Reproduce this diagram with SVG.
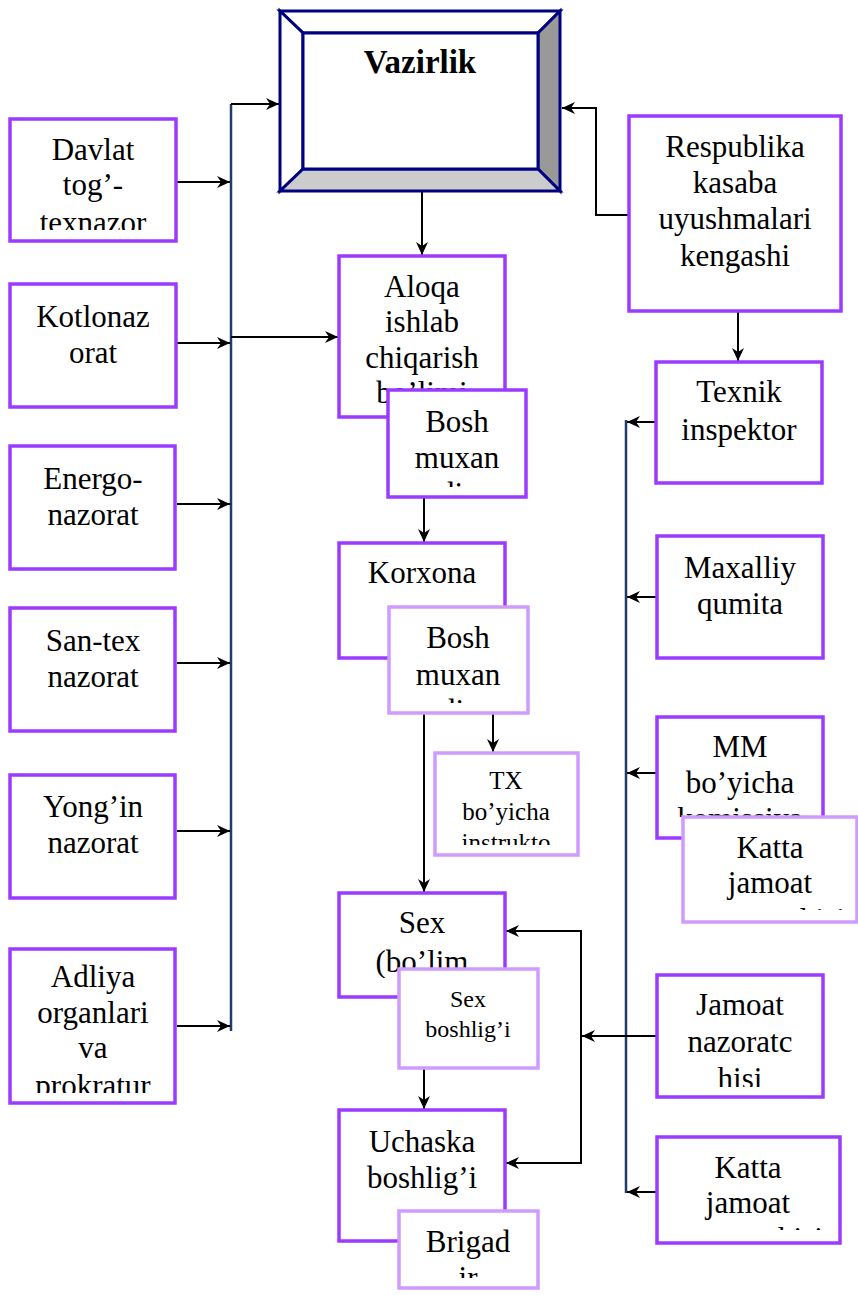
<svg xmlns="http://www.w3.org/2000/svg" width="858" height="1295" viewBox="0 0 858 1295">
<style>
.bx{fill:#fff;stroke:#9b3bff;stroke-width:3.5}
.lb{fill:#fff;stroke:#cf9bff;stroke-width:3.5}
.t{font-family:"Liberation Serif","Times New Roman",serif;font-size:31px;fill:#000;text-anchor:middle}
.s{font-size:25px}
.c{fill:none;stroke:#000;stroke-width:2}
.nv{fill:none;stroke:#1f3c6b;stroke-width:2.5}
.bev{stroke:#000080;stroke-width:3;stroke-linejoin:miter}
</style>
<defs>
<marker id="ar" markerUnits="userSpaceOnUse" markerWidth="14" markerHeight="12" refX="13" refY="6" orient="auto">
<path d="M0,0 L13,6 L0,12 L4,6 z" fill="#000"/>
</marker>
<clipPath id="c1"><rect x="12" y="121" width="162" height="109"/></clipPath>
<clipPath id="c2"><rect x="12" y="286" width="162" height="118"/></clipPath>
<clipPath id="c3"><rect x="12" y="448" width="162" height="118"/></clipPath>
<clipPath id="c4"><rect x="12" y="610" width="162" height="118"/></clipPath>
<clipPath id="c5"><rect x="12" y="777" width="162" height="118"/></clipPath>
<clipPath id="c6"><rect x="12" y="951" width="162" height="142"/></clipPath>
<clipPath id="cA"><rect x="341" y="258" width="162" height="155"/></clipPath>
<clipPath id="cB1"><rect x="390" y="392" width="135" height="95"/></clipPath>
<clipPath id="cK"><rect x="341" y="545" width="162" height="110"/></clipPath>
<clipPath id="cB2"><rect x="391" y="609" width="135" height="94"/></clipPath>
<clipPath id="cTX"><rect x="437" y="755" width="139" height="90"/></clipPath>
<clipPath id="cS"><rect x="341" y="895" width="162" height="83"/></clipPath>
<clipPath id="cSB"><rect x="401" y="971" width="135" height="95"/></clipPath>
<clipPath id="cU"><rect x="341" y="1112" width="162" height="127"/></clipPath>
<clipPath id="cBr"><rect x="401" y="1213" width="135" height="65"/></clipPath>
<clipPath id="cR"><rect x="631" y="118" width="208" height="191"/></clipPath>
<clipPath id="cT"><rect x="658" y="364" width="162" height="117"/></clipPath>
<clipPath id="cM"><rect x="659" y="538" width="162" height="118"/></clipPath>
<clipPath id="cMM"><rect x="659" y="719" width="162" height="98"/></clipPath>
<clipPath id="cKJ"><rect x="685" y="819" width="170" height="91"/></clipPath>
<clipPath id="cJ"><rect x="659" y="977" width="162" height="110"/></clipPath>
<clipPath id="cKJ2"><rect x="659" y="1139" width="179" height="91"/></clipPath>
</defs>

<g id="connectors">
<path class="nv" d="M231,104 V1031"/>
<path class="nv" d="M626,420 V1193"/>
<path class="c" d="M231,104 H279" marker-end="url(#ar)"/>
<path class="c" d="M231,337 H338" marker-end="url(#ar)"/>
<path class="c" d="M177,182 H230" marker-end="url(#ar)"/>
<path class="c" d="M177,343 H230" marker-end="url(#ar)"/>
<path class="c" d="M177,504 H230" marker-end="url(#ar)"/>
<path class="c" d="M177,663 H230" marker-end="url(#ar)"/>
<path class="c" d="M177,831 H230" marker-end="url(#ar)"/>
<path class="c" d="M177,1026 H230" marker-end="url(#ar)"/>
<path class="c" d="M629,215 H596 V108 H562" marker-end="url(#ar)"/>
<path class="c" d="M422,192 V255" marker-end="url(#ar)"/>
<path class="c" d="M424,498 V542" marker-end="url(#ar)"/>
<path class="c" d="M424,713 V892" marker-end="url(#ar)"/>
<path class="c" d="M493,713 V752" marker-end="url(#ar)"/>
<path class="c" d="M424,1068 V1109" marker-end="url(#ar)"/>
<path class="c" d="M738,311 V361" marker-end="url(#ar)"/>
<path class="c" d="M656,422 H627" marker-end="url(#ar)"/>
<path class="c" d="M657,597 H627" marker-end="url(#ar)"/>
<path class="c" d="M657,773 H627" marker-end="url(#ar)"/>
<path class="c" d="M657,1192 H627" marker-end="url(#ar)"/>
<path class="c" d="M657,1036 H582" marker-end="url(#ar)"/>
<path class="c" d="M581,1036 V931 H506" marker-end="url(#ar)"/>
<path class="c" d="M581,1036 V1163 H506" marker-end="url(#ar)"/>
</g>

<g id="vazirlik">
<rect x="280" y="11" width="280" height="180" fill="#fff"/>
<polygon class="bev" points="280,11 560,11 538,33 303,33" fill="#fff"/>
<polygon class="bev" points="280,11 303,33 303,169 280,191" fill="#fff"/>
<polygon class="bev" points="560,11 560,191 538,169 538,33" fill="#999"/>
<polygon class="bev" points="280,191 303,169 538,169 560,191" fill="#ccc"/>
<rect class="bev" x="303" y="33" width="235" height="136" fill="#fff"/>
<text class="t" x="420" y="73" style="font-weight:bold;font-size:33px">Vazirlik</text>
</g>

<g id="davlat">
<rect class="bx" x="10" y="119" width="166" height="122"/>
<g clip-path="url(#c1)"><text class="t" x="93" y="160">Davlat</text><text class="t" x="93" y="195">tog’-</text><text class="t" x="93" y="233">texnazor</text></g>
</g>
<g id="kotlonazorat">
<rect class="bx" x="10" y="284" width="166" height="123"/>
<g clip-path="url(#c2)"><text class="t" x="93" y="327">Kotlonaz</text><text class="t" x="93" y="363">orat</text></g>
</g>
<g id="energo">
<rect class="bx" x="10" y="446" width="165" height="123"/>
<g clip-path="url(#c3)"><text class="t" x="93" y="489">Energo-</text><text class="t" x="93" y="525">nazorat</text></g>
</g>
<g id="santex">
<rect class="bx" x="10" y="608" width="165" height="123"/>
<g clip-path="url(#c4)"><text class="t" x="93" y="651">San-tex</text><text class="t" x="93" y="687">nazorat</text></g>
</g>
<g id="yongin">
<rect class="bx" x="10" y="775" width="165" height="123"/>
<g clip-path="url(#c5)"><text class="t" x="93" y="817">Yong’in</text><text class="t" x="93" y="853">nazorat</text></g>
</g>
<g id="adliya">
<rect class="bx" x="10" y="949" width="165" height="154"/>
<g clip-path="url(#c6)"><text class="t" x="93" y="987">Adliya</text><text class="t" x="93" y="1023">organlari</text><text class="t" x="93" y="1058">va</text><text class="t" x="93" y="1096">prokratur</text></g>
</g>

<g id="aloqa">
<rect class="bx" x="339" y="256" width="166" height="161"/>
<g clip-path="url(#cA)"><text class="t" x="422" y="297">Aloqa</text><text class="t" x="422" y="332">ishlab</text><text class="t" x="422" y="368">chiqarish</text><text class="t" x="422" y="403">bo’limi</text></g>
</g>
<g id="bosh1">
<rect class="bx" x="388" y="390" width="138" height="107"/>
<g clip-path="url(#cB1)"><text class="t" x="457" y="432">Bosh</text><text class="t" x="457" y="468">muxan</text><text class="t" x="457" y="504">dis</text></g>
</g>
<g id="korxona">
<rect class="bx" x="339" y="543" width="166" height="115"/>
<g clip-path="url(#cK)"><text class="t" x="422" y="583">Korxona</text></g>
</g>
<g id="bosh2">
<rect class="lb" x="389" y="607" width="139" height="106"/>
<g clip-path="url(#cB2)"><text class="t" x="458" y="648">Bosh</text><text class="t" x="458" y="685">muxan</text><text class="t" x="458" y="721">dis</text></g>
</g>
<g id="tx">
<rect class="lb" x="435" y="753" width="143" height="102"/>
<g clip-path="url(#cTX)"><text class="t s" x="506" y="789">TX</text><text class="t s" x="506" y="820">bo’yicha</text><text class="t s" x="506" y="851">instrukto</text></g>
</g>
<g id="sex">
<rect class="bx" x="339" y="893" width="166" height="104"/>
<g clip-path="url(#cS)"><text class="t" x="422" y="933">Sex</text><text class="t" x="422" y="972">(bo’lim</text></g>
</g>
<g id="sexboshligi">
<rect class="lb" x="399" y="969" width="139" height="99"/>
<g clip-path="url(#cSB)"><text class="t" x="468" y="1007" style="font-size:24px">Sex</text><text class="t" x="468" y="1037" style="font-size:24px">boshlig’i</text></g>
</g>
<g id="uchaska">
<rect class="bx" x="339" y="1110" width="166" height="131"/>
<g clip-path="url(#cU)"><text class="t" x="422" y="1152">Uchaska</text><text class="t" x="422" y="1188">boshlig’i</text></g>
</g>
<g id="brigadir">
<rect class="lb" x="399" y="1211" width="139" height="77"/>
<g clip-path="url(#cBr)"><text class="t" x="468" y="1252">Brigad</text><text class="t" x="468" y="1288">ir</text></g>
</g>

<g id="respublika">
<rect class="bx" x="629" y="116" width="212" height="195"/>
<g clip-path="url(#cR)"><text class="t" x="735" y="157">Respublika</text><text class="t" x="735" y="193">kasaba</text><text class="t" x="735" y="229">uyushmalari</text><text class="t" x="735" y="266">kengashi</text></g>
</g>
<g id="texnik">
<rect class="bx" x="656" y="362" width="166" height="121"/>
<g clip-path="url(#cT)"><text class="t" x="739" y="402">Texnik</text><text class="t" x="739" y="440">inspektor</text></g>
</g>
<g id="maxalliy">
<rect class="bx" x="657" y="536" width="166" height="122"/>
<g clip-path="url(#cM)"><text class="t" x="740" y="578">Maxalliy</text><text class="t" x="740" y="614">qumita</text></g>
</g>
<g id="mm">
<rect class="bx" x="657" y="717" width="166" height="121"/>
<g clip-path="url(#cMM)"><text class="t" x="740" y="757">MM</text><text class="t" x="740" y="793">bo’yicha</text><text class="t" x="740" y="829">komissiya</text></g>
</g>
<g id="kattajamoat1">
<rect class="lb" x="683" y="817" width="174" height="105"/>
<g clip-path="url(#cKJ)"><text class="t" x="770" y="858">Katta</text><text class="t" x="770" y="893">jamoat</text><text class="t" x="770" y="930">nazoratchisi</text></g>
</g>
<g id="jamoat">
<rect class="bx" x="657" y="975" width="166" height="122"/>
<g clip-path="url(#cJ)"><text class="t" x="740" y="1015">Jamoat</text><text class="t" x="740" y="1052">nazoratc</text><text class="t" x="740" y="1089">hisi</text></g>
</g>
<g id="kattajamoat2">
<rect class="bx" x="657" y="1137" width="183" height="106"/>
<g clip-path="url(#cKJ2)"><text class="t" x="748" y="1178">Katta</text><text class="t" x="748" y="1213">jamoat</text><text class="t" x="748" y="1249">nazoratchisi</text></g>
</g>
</svg>
